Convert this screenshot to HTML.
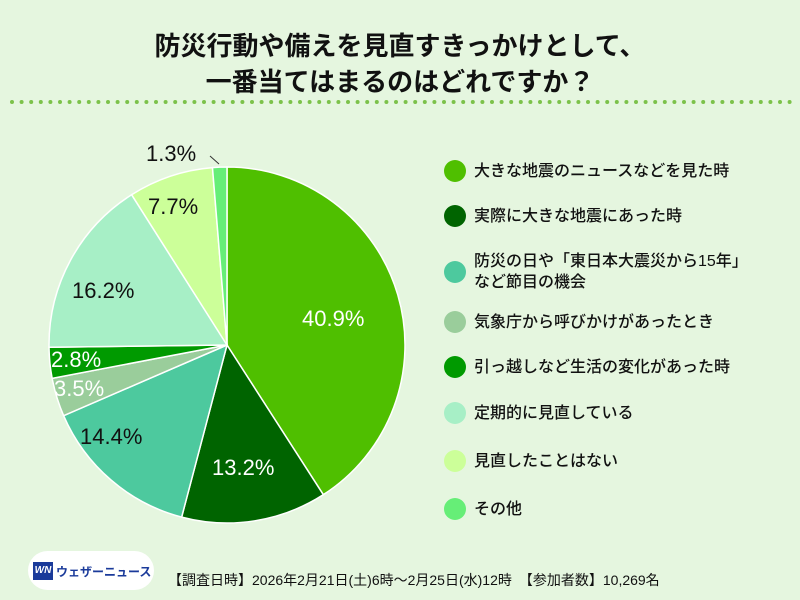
<!DOCTYPE html>
<html><head><meta charset="utf-8"><style>
body{margin:0;width:800px;height:600px;background:#e5f6df;overflow:hidden;position:relative;font-family:"Liberation Sans","Noto Sans CJK JP",sans-serif;}
.t{position:absolute;left:0;width:800px;text-align:center;font-weight:bold;font-size:26px;color:#111;}
.lg{position:absolute;left:474px;font-size:16px;color:#111;line-height:21px;font-weight:500;}
.dot{position:absolute;left:444px;width:22px;height:22px;border-radius:50%;}
.pl{position:absolute;font-size:22px;color:#111;}
</style></head><body>
<div class="t" style="top:26px">防災行動や備えを見直すきっかけとして、</div>
<div class="t" style="top:62px">一番当てはまるのはどれですか？</div>
<svg width="800" height="600" style="position:absolute;left:0;top:0">
<line x1="12" y1="102" x2="790" y2="102" stroke="#7cc24a" stroke-width="4" stroke-dasharray="0 9.6" stroke-linecap="round"/>
<g id="pie"></g>
<line x1="210" y1="156" x2="219" y2="164" stroke="#333" stroke-width="1"/>
</svg>
<script>
var d=[[40.9,"#4fbf00"],[13.2,"#006400"],[14.4,"#4dc99e"],[3.5,"#9acd9b"],[2.8,"#009a00"],[16.2,"#a7efc6"],[7.7,"#ccff99"],[1.3,"#66ee77"]];
var cx=227,cy=345,r=178,a=-Math.PI/2,s="";
d.forEach(function(e){var b=a+e[0]/100*2*Math.PI;var x1=cx+r*Math.cos(a),y1=cy+r*Math.sin(a),x2=cx+r*Math.cos(b),y2=cy+r*Math.sin(b);
s+='<path d="M'+cx+','+cy+'L'+x1+','+y1+'A'+r+','+r+' 0 '+(e[0]>50?1:0)+' 1 '+x2+','+y2+'Z" fill="'+e[1]+'" stroke="#fff" stroke-width="1.5"/>';a=b;});
document.getElementById('pie').innerHTML=s;
</script>
<div class="pl" style="left:302px;top:306px;color:#fff">40.9%</div>
<div class="pl" style="left:212px;top:455px;color:#fff">13.2%</div>
<div class="pl" style="left:80px;top:424px">14.4%</div>
<div class="pl" style="left:54px;top:376px;color:#fff">3.5%</div>
<div class="pl" style="left:51px;top:347px;color:#fff">2.8%</div>
<div class="pl" style="left:72px;top:278px">16.2%</div>
<div class="pl" style="left:148px;top:194px">7.7%</div>
<div class="pl" style="left:146px;top:141px">1.3%</div>
<div class="dot" style="top:160px;background:#4fbf00"></div><div class="lg" style="top:161px">大きな地震のニュースなどを見た時</div>
<div class="dot" style="top:205px;background:#006400"></div><div class="lg" style="top:206px">実際に大きな地震にあった時</div>
<div class="dot" style="top:261px;background:#4dc99e"></div><div class="lg" style="top:251px">防災の日や「東日本大震災から15年」<br>など節目の機会</div>
<div class="dot" style="top:311px;background:#9acd9b"></div><div class="lg" style="top:312px">気象庁から呼びかけがあったとき</div>
<div class="dot" style="top:356px;background:#009a00"></div><div class="lg" style="top:357px">引っ越しなど生活の変化があった時</div>
<div class="dot" style="top:402px;background:#a7efc6"></div><div class="lg" style="top:403px">定期的に見直している</div>
<div class="dot" style="top:450px;background:#ccff99"></div><div class="lg" style="top:451px">見直したことはない</div>
<div class="dot" style="top:498px;background:#66ee77"></div><div class="lg" style="top:499px">その他</div>
<div style="position:absolute;left:28px;top:551px;width:126px;height:39px;border-radius:20px;background:#fff"></div>
<div style="position:absolute;left:33px;top:562px;width:20px;height:18px;background:#1a3a9a;color:#fff;font-size:10px;font-weight:bold;line-height:18px;text-align:center;font-style:italic">WN</div>
<div style="position:absolute;left:56px;top:563px;font-size:12px;font-weight:bold;color:#1a3a9a">ウェザーニュース</div>
<div style="position:absolute;left:168px;top:570px;font-size:14px;color:#111">【調査日時】2026年2月21日(土)6時～2月25日(水)12時　【参加者数】10,269名</div>
</body></html>
